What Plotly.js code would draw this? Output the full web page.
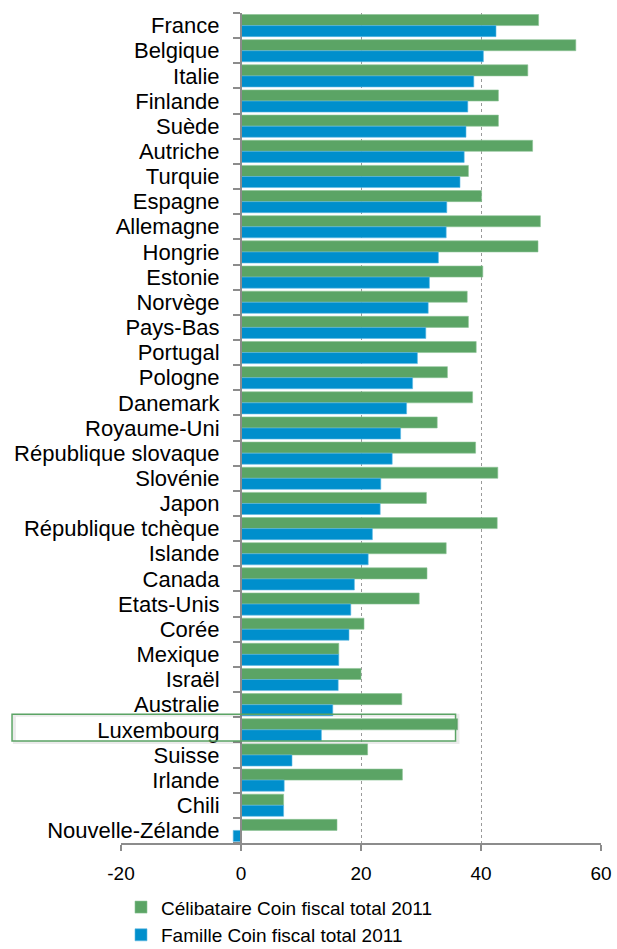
<!DOCTYPE html>
<html>
<head>
<meta charset="utf-8">
<script src="https://cdn.plot.ly/plotly-3.0.1.min.js"></script>
<style>html,body{margin:0;padding:0;background:#fff;}#chart{width:617px;height:949px;}</style>
</head>
<body>
<div id="chart"></div>
<script>
const countries = ["France","Belgique","Italie","Finlande","Suède","Autriche","Turquie","Espagne","Allemagne","Hongrie","Estonie","Norvège","Pays-Bas","Portugal","Pologne","Danemark","Royaume-Uni","République slovaque","Slovénie","Japon","République tchèque","Islande","Canada","Etats-Unis","Corée","Mexique","Israël","Australie","Luxembourg","Suisse","Irlande","Chili","Nouvelle-Zélande"];
const celibataire = [49.6,55.8,47.8,42.9,42.9,48.6,37.9,40.1,49.9,49.5,40.3,37.7,37.9,39.2,34.4,38.6,32.7,39.1,42.8,30.9,42.7,34.2,31.0,29.7,20.5,16.3,20.0,26.8,36.1,21.1,26.9,7.1,16.0];
const famille = [42.5,40.4,38.8,37.8,37.5,37.2,36.5,34.3,34.2,32.9,31.4,31.2,30.8,29.4,28.6,27.6,26.6,25.2,23.3,23.2,21.9,21.2,18.9,18.3,18.0,16.3,16.2,15.3,13.4,8.5,7.2,7.1,-1.3];
const seriesNames = ["Célibataire Coin fiscal total 2011","Famille Coin fiscal total 2011"];
const xTicks = [-20,0,20,40,60];
const highlighted = "Luxembourg";

const FONT = "Liberation Sans, Arial, sans-serif";
const hi = countries.indexOf(highlighted);

const traces = [
  {type:"bar", orientation:"h", name:seriesNames[0], y:countries, x:celibataire,
   marker:{color:"#5ba465", line:{color:"#8cc395", width:0.6}}},
  {type:"bar", orientation:"h", name:seriesNames[1], y:countries, x:famille,
   marker:{color:"#008fcc", line:{color:"#5fb9e3", width:0.6}}}
];

const layout = {
  width:617, height:949,
  margin:{l:121, r:16, t:13, b:106, autoexpand:false},
  paper_bgcolor:"#fff", plot_bgcolor:"#fff",
  font:{family:FONT, color:"#000"},
  barmode:"group", bargap:0.12, bargroupgap:0,
  showlegend:true,
  legend:{orientation:"v", x:0.0, xanchor:"left", yref:"container", y:0.064, yanchor:"top",
          font:{family:FONT, size:19, color:"#000"}, bgcolor:"rgba(0,0,0,0)", itemwidth:30, traceorder:"normal"},
  xaxis:{range:[xTicks[0], xTicks[xTicks.length-1]], tickvals:xTicks, ticktext:xTicks.map(String),
         showgrid:true, gridcolor:"#9a9a9a", griddash:"dot", gridwidth:1,
         zeroline:false, showline:true, linecolor:"#8c8c8c", linewidth:2,
         ticks:"outside", ticklen:6, tickwidth:2, tickcolor:"#8c8c8c",
         tickfont:{family:FONT, size:19, color:"#000"}, ticklabelstandoff:6, fixedrange:true, automargin:false},
  yaxis:{type:"category", autorange:"reversed", anchor:"free", position:0.25,
         tickmode:"array", tickvals:countries, ticktext:countries,
         showgrid:false, zeroline:false, showline:true, linecolor:"#8c8c8c", linewidth:2,
         ticks:"outside", tickson:"boundaries", ticklen:7, tickwidth:2, tickcolor:"#8c8c8c",
         tickfont:{family:FONT, size:22, color:"#000"}, ticklabelstandoff:16, fixedrange:true, automargin:false},
  shapes:[
    {type:"rect", xref:"paper", yref:"y", x0:-0.222, x1:0.702, y0:hi-0.58, y1:hi+0.5,
     line:{color:"rgba(0,0,0,0.08)", width:3}, fillcolor:"rgba(0,0,0,0)", layer:"above"},
    {type:"rect", xref:"paper", yref:"y", x0:-0.227, x1:0.697, y0:hi-0.62, y1:hi+0.44,
     line:{color:"#5ba465", width:1.5}, fillcolor:"rgba(0,0,0,0)", layer:"above"}
  ]
};

Plotly.newPlot("chart", traces, layout, {displayModeBar:false, staticPlot:true});
</script>
</body>
</html>
